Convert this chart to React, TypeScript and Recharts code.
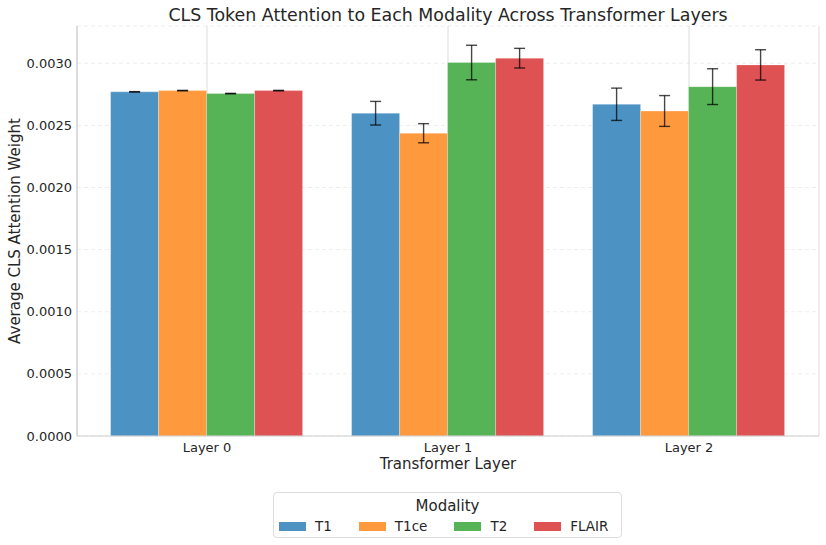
import React from "react";
import {
  BarChart,
  Bar,
  XAxis,
  YAxis,
  CartesianGrid,
  ErrorBar,
} from "recharts";

const layers = ["Layer 0", "Layer 1", "Layer 2"];
const modalities = ["T1", "T1ce", "T2", "FLAIR"];
const t1 = [0.00277, 0.002598, 0.00267];
const t1Err = [0.000002, 0.000095, 0.00013];
const t1ce = [0.00278, 0.002437, 0.002616];
const t1ceErr = [0.000002, 0.000077, 0.000124];
const t2 = [0.002756, 0.003006, 0.002812];
const t2Err = [0.000002, 0.000139, 0.000144];
const flair = [0.00278, 0.003041, 0.002987];
const flairErr = [0.000002, 0.000079, 0.000122];
const yTicks = [0, 0.0005, 0.001, 0.0015, 0.002, 0.0025, 0.003];

const COLORS = ["#4c92c3", "#ff993e", "#56b356", "#de5253"];
const FONT = "DejaVu Sans";
const TEXT = "#262626";

const series = [
  { key: "t1", err: "t1Err", values: t1, errors: t1Err },
  { key: "t1ce", err: "t1ceErr", values: t1ce, errors: t1ceErr },
  { key: "t2", err: "t2Err", values: t2, errors: t2Err },
  { key: "flair", err: "flairErr", values: flair, errors: flairErr },
];

const data = layers.map((layer, i) => {
  const row: Record<string, string | number> = { layer };
  series.forEach((s) => {
    row[s.key] = s.values[i];
    row[s.err] = s.errors[i];
  });
  return row;
});

const xPad = { left: 9.5, right: 9.5 };

export default function App() {
  return (
    <div
      style={{
        position: "absolute",
        left: 0,
        top: 0,
        width: 826,
        height: 545,
        background: "#fff",
        fontFamily: FONT,
        color: TEXT,
      }}
    >
      <div
        style={{
          position: "absolute",
          top: 3,
          left: 77,
          width: 742,
          textAlign: "center",
          fontSize: 17.4,
          lineHeight: "24px",
        }}
      >
        CLS Token Attention to Each Modality Across Transformer Layers
      </div>
      <BarChart
        width={826}
        height={545}
        data={data}
        margin={{ top: 26, right: 7, left: 7, bottom: 59 }}
        barCategoryGap="10%"
        barGap={0}
        style={{ fontFamily: FONT }}
      >
        <CartesianGrid
          horizontal={true}
          vertical={false}
          stroke="#eeeeee"
          strokeDasharray="4 3"
        />
        <CartesianGrid horizontal={false} vertical={true} stroke="#dcdcdc" />
        <XAxis
          dataKey="layer"
          height={50}
          padding={xPad}
          tickLine={false}
          tickSize={5}
          axisLine={{ stroke: "#cccccc" }}
          tick={{ fill: TEXT, fontSize: 13 }}
          label={{
            content: () => (
              <text
                x={448}
                y={469}
                textAnchor="middle"
                fill={TEXT}
                fontSize={15}
                fontFamily={FONT}
              >
                Transformer Layer
              </text>
            ),
          }}
        />
        <XAxis
          xAxisId="top"
          orientation="top"
          dataKey="layer"
          height={0}
          padding={xPad}
          tick={false}
          tickLine={false}
          axisLine={{ stroke: "#cccccc" }}
        />
        <YAxis
          width={70}
          domain={[0, 0.0033]}
          ticks={yTicks}
          tickFormatter={(v: number) => v.toFixed(4)}
          tickLine={false}
          tickSize={3}
          axisLine={{ stroke: "#cccccc" }}
          tick={{ fill: TEXT, fontSize: 13 }}
          label={{
            content: () => (
              <text
                x={15}
                y={231}
                transform="rotate(-90 15 231)"
                textAnchor="middle"
                dominantBaseline="central"
                fill={TEXT}
                fontSize={15}
                fontFamily={FONT}
              >
                Average CLS Attention Weight
              </text>
            ),
          }}
        />
        <YAxis
          yAxisId="right"
          orientation="right"
          width={0}
          domain={[0, 0.0033]}
          tick={false}
          tickLine={false}
          axisLine={{ stroke: "#cccccc" }}
        />
        {series.map((s, i) => (
          <Bar
            key={s.key}
            dataKey={s.key}
            name={modalities[i]}
            fill={COLORS[i]}
            stroke="#ffffff"
            strokeOpacity={0.35}
            strokeWidth={0.8}
            isAnimationActive={false}
          >
            <ErrorBar
              dataKey={s.err}
              width={5.5}
              stroke="rgba(0,0,0,0.72)"
              strokeWidth={1.4}
              isAnimationActive={false}
            />
          </Bar>
        ))}
      </BarChart>
      <div
        style={{
          position: "absolute",
          left: 273,
          top: 492,
          width: 349,
          height: 46,
          border: "1px solid #dddddd",
          borderRadius: 4,
          boxSizing: "border-box",
        }}
      >
        <div
          style={{
            textAlign: "center",
            fontSize: 15,
            lineHeight: "18px",
            marginTop: 4,
          }}
        >
          Modality
        </div>
        <div
          style={{
            display: "flex",
            alignItems: "center",
            paddingLeft: 5,
            marginTop: 3,
            fontSize: 13.5,
            lineHeight: "16px",
          }}
        >
          {modalities.map((m, i) => (
            <div
              key={m}
              style={{
                display: "flex",
                alignItems: "center",
                marginRight: 27,
              }}
            >
              <span
                style={{
                  display: "inline-block",
                  width: 27,
                  height: 9,
                  background: COLORS[i],
                  marginRight: 9,
                }}
              />
              <span>{m}</span>
            </div>
          ))}
        </div>
      </div>
    </div>
  );
}
